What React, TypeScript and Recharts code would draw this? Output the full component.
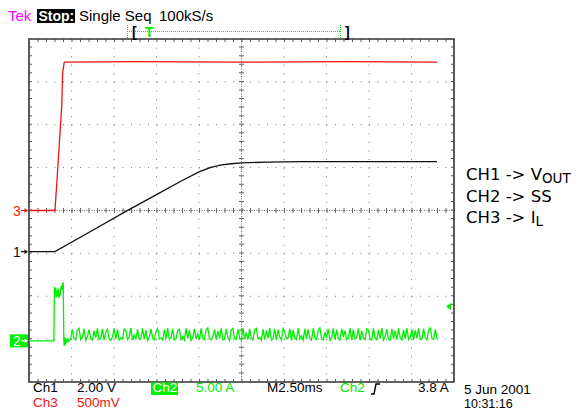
import React from 'react'
import { LineChart, Line, XAxis, YAxis, CartesianGrid, ReferenceLine, ReferenceArea } from 'recharts'

// scope screen in divisions: 10 across, 8 up
const xDivTicks = [0, 1, 2, 3, 4, 5, 6, 7, 8, 9, 10]
const yDivTicks = [0, 1, 2, 3, 4, 5, 6, 7, 8]

// ground markers (divisions)
const ch1Ground = 3.04
const ch2Ground = 0.96
const ch3Ground = 4.0
const ch2TriggerLevel = 1.76

// CH3 (red)
const ch3Time = [0, 0.61, 0.65, 0.71, 0.77, 0.79, 0.83, 2.5, 5.0, 7.5, 9.6]
const ch3Level = [4.0, 4.0, 4.57, 5.5, 6.43, 7.2, 7.46, 7.47, 7.46, 7.47, 7.46]

// CH1 (black)
const ch1Time = [0, 0.61, 1.5, 2.3, 3.0, 3.55, 4.0, 4.26, 4.5, 4.75, 5.0, 5.6, 6.4, 9.6]
const ch1Level = [3.04, 3.04, 3.54, 3.99, 4.37, 4.67, 4.9, 5.0, 5.06, 5.09, 5.11, 5.13, 5.14, 5.14]

// CH2 (green) start-up spike
const ch2SpikeTime = [0, 0.585, 0.592, 0.6, 0.615, 0.63, 0.645, 0.66, 0.675, 0.69, 0.705, 0.72, 0.735, 0.75, 0.765, 0.78, 0.795, 0.805, 0.812, 0.82, 0.83, 0.845, 0.86, 0.875, 0.89, 0.91, 0.93, 0.955]
const ch2SpikeLevel = [0.96, 0.96, 1.6, 2.22, 2.02, 2.2, 1.98, 2.14, 2.0, 2.18, 1.96, 2.08, 2.02, 2.2, 2.25, 2.15, 2.3, 2.32, 1.7, 1.0, 0.84, 1.04, 0.88, 1.0, 0.92, 1.02, 0.95, 0.98]

// CH2 switching noise after the spike, sampled evenly from 0.98 to 9.6 div
const ch2NoiseStart = 0.98
const ch2NoiseEnd = 9.6
const ch2Noise = [
  1.00, 1.23, 1.02, 0.98, 1.21, 1.25, 0.99, 1.04, 1.24, 0.97, 1.06, 1.22, 1.01, 0.98, 1.19, 1.03, 1.25, 0.99, 1.02, 1.24,
  0.98, 1.17, 1.23, 1.00, 0.97, 1.05, 1.25, 1.01, 1.22, 0.98, 1.03, 1.00, 1.24, 1.20, 0.99, 1.04, 1.26, 0.98, 1.09, 1.01,
  1.23, 0.99, 1.02, 1.25, 1.00, 1.21, 0.97, 1.05, 1.24, 1.02, 0.98, 1.18, 1.25, 1.00, 1.03, 0.98, 1.22, 1.01, 1.26, 0.99,
  1.04, 1.24, 0.98, 1.01, 1.20, 1.23, 0.99, 1.06, 0.98, 1.25, 1.02, 1.21, 0.97, 1.03, 1.24, 1.00, 1.12, 0.98, 1.25, 1.02,
  0.99, 1.22, 1.26, 1.01, 0.98, 1.05, 1.23, 0.99, 1.19, 1.02, 1.25, 0.98, 1.00, 1.24, 1.04, 0.97, 1.21, 1.25, 1.01, 0.99,
  1.23, 1.03, 0.98, 1.26, 1.00, 1.15, 0.99, 1.24, 1.02, 0.98, 1.22, 1.25, 1.01, 1.04, 0.97, 1.23, 0.99, 1.20, 1.03, 1.26,
  0.98, 1.01, 1.24, 0.99, 1.22, 1.05, 0.98, 1.25, 1.18, 1.00, 1.03, 1.24, 0.97, 1.21, 1.02, 0.99, 1.26, 1.01, 1.08, 0.98,
  1.24, 1.00, 1.23, 1.02, 0.98, 1.25, 1.04, 0.99, 1.21, 1.26, 1.00, 0.98, 1.16, 1.03, 1.24, 0.97, 1.02, 1.25, 0.99, 1.22,
  1.01, 0.98, 1.24, 1.05, 1.20, 0.99, 1.02, 1.26, 0.98, 1.23, 1.00, 1.04, 1.25, 0.97, 1.19, 1.02, 0.99, 1.24, 1.21, 1.00,
  0.98, 1.25, 1.03, 0.99, 1.22, 1.01, 1.26, 0.98, 1.06, 1.23, 1.00, 0.97, 1.24, 1.02, 1.20, 0.99, 1.25, 1.03, 0.98, 1.22,
  1.01, 1.26, 0.99, 1.04, 1.23, 0.98, 1.21, 1.02, 1.25, 0.99, 1.00, 1.24, 1.03, 0.98, 1.22, 1.26, 1.01, 0.99, 1.23, 1.00,
]

const RED = '#f01414'
const GREEN = '#00ee00'
const FONT = "'Liberation Sans', Arial, sans-serif"

const ch3Data = ch3Time.map((t, i) => ({ t, v: ch3Level[i] }))
const ch1Data = ch1Time.map((t, i) => ({ t, v: ch1Level[i] }))
const ch2Data = [
  ...ch2SpikeTime.map((t, i) => ({ t, v: ch2SpikeLevel[i] })),
  ...ch2Noise.map((v, i) => ({
    t: ch2NoiseStart + (i * (ch2NoiseEnd - ch2NoiseStart)) / (ch2Noise.length - 1),
    v,
  })),
]

const GroundMarker = (props: any) => {
  const { viewBox, text, color, boxed } = props
  const x = viewBox.x
  const y = viewBox.y
  const fg = boxed ? '#fff' : color
  return (
    <g>
      {boxed && <rect x={x - 19} y={y - 6.5} width={18} height={13} fill={color} />}
      <text x={x - 16} y={y + 5} fill={fg} fontSize={14} fontFamily={FONT}>{text}</text>
      <line x1={x - 8} y1={y} x2={x - 2} y2={y} stroke={fg} strokeWidth={1.2} />
      <path d={`M${x - 1},${y} L${x - 4.5},${y - 2.5} L${x - 4.5},${y + 2.5} Z`} fill={fg} />
    </g>
  )
}

const TriggerMarker = (props: any) => {
  const { viewBox } = props
  const x = viewBox.x + viewBox.width
  const y = viewBox.y
  return <path d={`M${x - 8},${y} L${x - 3},${y - 3.5} L${x - 3},${y + 3.5} Z`} fill={GREEN} />
}

const ScreenText = () => (
  <svg
    width={583}
    height={410}
    style={{ position: 'absolute', left: 0, top: 0, pointerEvents: 'none' }}
    fontFamily={FONT}
  >
    {/* header */}
    <text x={8} y={21} fill="#ff00ff" fontSize={15}>Tek</text>
    <rect x={37} y={9} width={38} height={14} fill="#000" />
    <text x={38.5} y={21} fill="#fff" fontSize={14} fontWeight="bold">Stop:</text>
    <text x={79} y={21} fontSize={15}>Single Seq</text>
    <text x={159} y={21} fontSize={15}>100kS/s</text>

    {/* record view bar */}
    <line x1={127} y1={31.5} x2={341} y2={31.5} stroke={GREEN} strokeDasharray="1 1" />
    <line x1={127.5} y1={25} x2={127.5} y2={38} stroke={GREEN} strokeDasharray="1 1" />
    <line x1={340.5} y1={25} x2={340.5} y2={38} stroke={GREEN} strokeDasharray="1 1" />
    <text x={132} y={37} fontSize={14} fontWeight="bold">[</text>
    <text x={145} y={37} fontSize={14} fill={GREEN} fontWeight="bold">T</text>
    <text x={345} y={37} fontSize={14} fontWeight="bold">]</text>

    {/* channel legend */}
    <g fontFamily="'DejaVu Sans', sans-serif" fontSize={16.5}>
      <text x={466} y={180}>
        CH1 -&gt; V<tspan fontSize={13.5} dy={3}>OUT</tspan>
      </text>
      <text x={466} y={202}>CH2 -&gt; SS</text>
      <text x={466} y={223}>
        CH3 -&gt; I<tspan fontSize={13.5} dy={3}>L</tspan>
      </text>
    </g>

    {/* status line */}
    <g fontSize={13.5}>
      <text x={33} y={392}>Ch1</text>
      <text x={77} y={392}>2.00 V</text>
      <rect x={151} y={382.5} width={27} height={12.5} fill={GREEN} />
      <text x={152.5} y={392} fill="#fff">Ch2</text>
      <text x={196} y={392} fill={GREEN}>5.00 A</text>
      <text x={267} y={392}>M2.50ms</text>
      <text x={340} y={392} fill={GREEN}>Ch2</text>
      <text x={418} y={392}>3.8 A</text>
      <text x={33} y={407} fill={RED}>Ch3</text>
      <text x={77} y={407} fill={RED}>500mV</text>
      <text x={464} y={394}>5 Jun 2001</text>
      <text x={464} y={407.5} fontSize={12.5}>10:31:16</text>
    </g>
    <path d="M371,394 L374,394 L376,384 L380,384" fill="none" stroke="#000" strokeWidth={1.4} />
  </svg>
)

const ScopeCapture: React.FC = () => {
  return (
    <div style={{ position: 'absolute', left: 0, top: 0, width: 583, height: 410, background: '#fff' }}>
      <LineChart width={583} height={410} margin={{ top: 39, right: 129, bottom: 28, left: 29 }}>
        <XAxis type="number" dataKey="t" domain={[0, 10]} ticks={xDivTicks} hide />
        <YAxis type="number" dataKey="v" domain={[0, 8]} ticks={yDivTicks} hide />
        <CartesianGrid vertical={false} stroke="#777" strokeDasharray="1 7.5" />
        <CartesianGrid horizontal={false} stroke="#777" strokeDasharray="1 7.575" />

        {/* centre cross with minor ticks */}
        <ReferenceLine y={4} stroke="#666" strokeDasharray="1 1.5" />
        <ReferenceLine y={4} stroke="#666" strokeWidth={5} strokeDasharray="1 7.5" />
        <ReferenceLine x={5} stroke="#666" strokeDasharray="1 1.5" />
        <ReferenceLine x={5} stroke="#666" strokeWidth={5} strokeDasharray="1 7.575" />

        {/* frame ticks */}
        <ReferenceLine y={7.965} stroke="#555" strokeWidth={3} strokeDasharray="1 7.5" />
        <ReferenceLine y={0.035} stroke="#555" strokeWidth={3} strokeDasharray="1 7.5" />
        <ReferenceLine x={0.035} stroke="#555" strokeWidth={3} strokeDasharray="1 7.575" />
        <ReferenceLine x={9.965} stroke="#555" strokeWidth={3} strokeDasharray="1 7.575" />
        <ReferenceArea x1={0} x2={10} y1={0} y2={8} fill="none" stroke="#333" strokeWidth={1.6} />

        <Line data={ch2Data} dataKey="v" type="linear" stroke={GREEN} strokeWidth={1.3} dot={false} isAnimationActive={false} />
        <Line data={ch1Data} dataKey="v" type="linear" stroke="#111" strokeWidth={1.3} dot={false} isAnimationActive={false} />
        <Line data={ch3Data} dataKey="v" type="linear" stroke={RED} strokeWidth={1.3} dot={false} isAnimationActive={false} />

        <ReferenceLine y={ch3Ground} stroke="none" label={<GroundMarker text="3" color={RED} />} />
        <ReferenceLine y={ch1Ground} stroke="none" label={<GroundMarker text="1" color="#111" />} />
        <ReferenceLine y={ch2Ground} stroke="none" label={<GroundMarker text="2" color={GREEN} boxed />} />
        <ReferenceLine y={ch2TriggerLevel} stroke="none" label={<TriggerMarker />} />
      </LineChart>
      <ScreenText />
    </div>
  )
}

export default function App() {
  return <ScopeCapture />
}
